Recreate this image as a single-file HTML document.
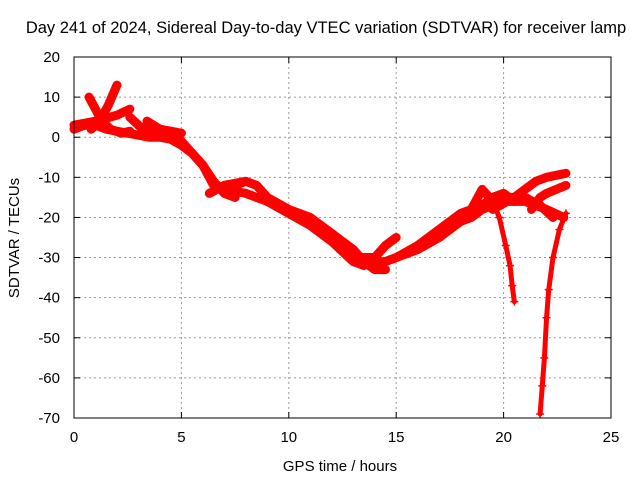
<!DOCTYPE html>
<html><head><meta charset="utf-8"><style>
body{margin:0;background:#fff;}
svg{display:block;font-family:"Liberation Sans",sans-serif;}
</style></head><body>
<svg id="chart" width="640" height="480">
<text x="326" y="33" font-size="16.5" text-anchor="middle">Day 241 of 2024, Sidereal Day-to-day VTEC variation (SDTVAR) for receiver lamp</text>
<text x="340" y="471" font-size="15" text-anchor="middle">GPS time / hours</text>
<text x="19" y="238" font-size="15" text-anchor="middle" transform="rotate(-90 19 238)">SDTVAR / TECUs</text>
<g id="grid"></g><g id="series"></g><g id="axes"></g>
<rect x="74" y="57" width="537" height="361" fill="none" stroke="#000" stroke-width="1"/>
</svg>
<script>
const xTicks=[0,5,10,15,20,25];
const yTicks=[20,10,0,-10,-20,-30,-40,-50,-60,-70];
const t1=[[0,2],[0.5,3],[1,3],[1.5,2],[2,1.5],[2.5,1],[3,0.5],[3.5,0],[4,0],[4.5,-0.5],[5,-2],[5.5,-4],[6,-7],[6.5,-11],[7,-14],[7.5,-15]];
const t2=[[0.7,10],[1,7],[1.3,4],[1.7,2],[2.2,1],[2.6,1.5]];
const t3=[[0.8,2],[1.2,4],[1.6,8],[2,13]];
const t4=[[0,3],[1,4],[2,5.5],[2.6,7]];
const t5=[[2.6,5],[3.2,2],[4,1],[4.5,1.5],[5,-1],[6,-7],[6.5,-12],[7,-13],[8,-11]];
const t6=[[3.4,4],[4,2],[5,1]];
const t7=[[6.3,-14],[7,-12],[8,-11],[8.5,-12],[9,-15],[10,-18],[11,-20],[12,-24],[13,-28],[13.5,-31],[14,-33],[14.5,-33]];
const t8=[[7,-13],[8,-14],[9,-16],[10,-19],[11,-22],[12,-26],[13,-31],[13.5,-32]];
const t9=[[13,-30],[14,-30],[14.5,-27],[15,-25]];
const t10=[[13.5,-31],[14.5,-31],[15,-30],[16,-28],[17,-25],[18,-21],[18.5,-20],[19,-18],[20,-16],[21,-16],[22,-18],[22.8,-20]];
const t11=[[14,-32],[15,-30],[16,-27],[17,-23],[18,-19],[19,-17],[19.5,-15],[20,-14],[20.5,-16]];
const t12=[[16,-27],[17,-24],[18,-20],[18.5,-18],[19,-13],[19.5,-16]];
const t13=[[19.5,-16],[19.8,-20],[20.1,-27],[20.3,-32],[20.4,-37],[20.5,-41]];
const t14=[[19.5,-18],[20.5,-15],[21,-13],[21.5,-11],[22,-10],[22.9,-9]];
const t15=[[21.3,-18],[21.7,-15],[22,-14],[22.9,-12]];
const t16=[[22.9,-19],[22.6,-23],[22.3,-30],[22.1,-38],[22,-45],[21.9,-55],[21.8,-62],[21.7,-69]];
const t17=[[20,-15],[21,-15],[21.7,-17],[22.3,-20]];
const tracks=[t1,t2,t3,t4,t5,t6,t7,t8,t9,t10,t11,t12,t13,t14,t15,t16,t17];

const NS="http://www.w3.org/2000/svg";
const X0=74,X1=611,Y0=57,Y1=418;
function sx(h){return X0+(h-0)/(25-0)*(X1-X0);}
function sy(v){return Y0+(20-v)/(20-(-70))*(Y1-Y0);}
function mk(tag,attrs,parent){const e=document.createElementNS(NS,tag);for(const k in attrs)e.setAttribute(k,attrs[k]);parent.appendChild(e);return e;}
const grid=document.getElementById('grid'),axes=document.getElementById('axes'),ser=document.getElementById('series');
xTicks.forEach(t=>{
  const x=sx(t);
  if(t>0&&t<25){const g=mk('line',{x1:x,x2:x,y1:Y0,y2:Y1,stroke:'#999','stroke-dasharray':'2,3'},grid);
  
  }
  mk('line',{x1:x,x2:x,y1:Y1,y2:Y1-6,stroke:'#000'},axes);
  mk('line',{x1:x,x2:x,y1:Y0,y2:Y0+6,stroke:'#000'},axes);
  const l=mk('text',{x:x,y:Y1+24,'font-size':15,'text-anchor':'middle'},axes);l.textContent=t;
  
  
});
yTicks.forEach(t=>{
  const y=sy(t);
  if(t<20&&t>-70){const g=mk('line',{x1:X0,x2:X1,y1:y,y2:y,stroke:'#999','stroke-dasharray':'2,3'},grid);
  
  }
  mk('line',{x1:X0,x2:X0+6,y1:y,y2:y,stroke:'#000'},axes);
  mk('line',{x1:X1,x2:X1-6,y1:y,y2:y,stroke:'#000'},axes);
  const l=mk('text',{x:X0-14,y:y+5,'font-size':15,'text-anchor':'end'},axes);l.textContent=t;
  
  
});
tracks.forEach((tr,i)=>{
  const pts=tr.map(p=>sx(p[0])+','+sy(p[1])).join(' ');
  const pl=mk('polyline',{points:pts,fill:'none',stroke:'#f00','stroke-width':(i===12||i===15)?5:9,'stroke-linejoin':'round','stroke-linecap':'round'},ser);
  
  
  tr.forEach(p=>{const x=sx(p[0]),y=sy(p[1]);
    mk('path',{d:`M${x-4},${y}H${x+4}M${x},${y-4}V${y+4}`,stroke:'#f00','stroke-width':1.5},ser);});
});
</script>
</body></html>
